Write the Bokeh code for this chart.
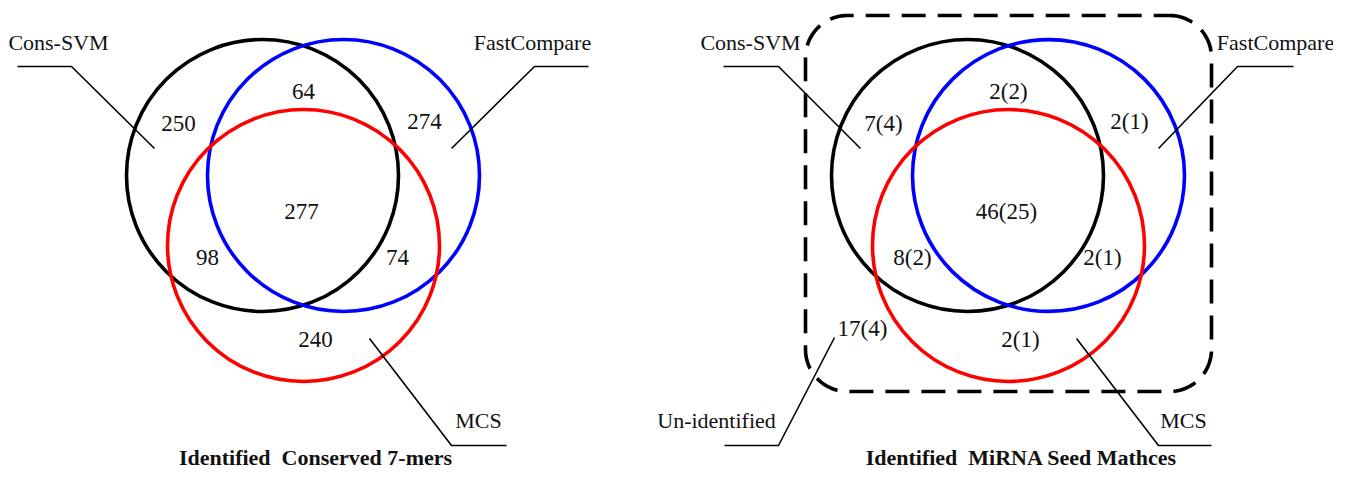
import numpy as np
from bokeh.plotting import figure
from bokeh.models import Range1d, ColumnDataSource
from bokeh.core.properties import value
from bokeh.embed import file_html
from bokeh.resources import INLINE

# ---------------- data ----------------
set_names = ["Cons-SVM", "FastCompare", "MCS"]
set_colors = ["black", "blue", "red"]

# region order: A only, A&B, B only, A&B&C, A&C, B&C, C only
regions = ["A", "AB", "B", "ABC", "AC", "BC", "C"]
kmer_counts = ["250", "64", "274", "277", "98", "74", "240"]
seed_counts = ["7(4)", "2(2)", "2(1)", "46(25)", "8(2)", "2(1)", "2(1)"]
unidentified_label = "Un-identified"
unidentified_count = "17(4)"
title_left = "Identified  Conserved 7-mers"
title_right = "Identified  MiRNA Seed Mathces"

# ---------------- layout (pixel space of the picture) ----------------
FONT = value("Liberation Serif")
W, H = 1333, 471

p = figure(width=W, height=H, output_backend="svg", toolbar_location=None,
           x_range=Range1d(0, W), y_range=Range1d(H, 0),
           min_border=0)
p.axis.visible = False
p.grid.visible = False
p.outline_line_color = None
p.background_fill_color = "white"
p.border_fill_color = "white"

# circle centres for each diagram, relative offsets
circ_dx = [0, 81, 41]
circ_dy = [0, 0, 70]
R = 136
origins = [(262, 175), (967, 175)]

# region label offsets relative to diagram origin (black circle centre)
reg_dx = [-84, 41, 162, 39, -55, 135, 53]
reg_dy = [-52, -84, -54, 36, 82, 82, 164]

for (ox, oy), counts in zip(origins, [kmer_counts, seed_counts]):
    cx = [ox + d for d in circ_dx]
    cy = [oy + d for d in circ_dy]
    p.ellipse(x=cx, y=cy, width=2 * R, height=2 * R, fill_color=None,
              line_color=set_colors, line_width=3.6)
    src = ColumnDataSource(dict(x=[ox + d for d in reg_dx],
                                y=[oy + d for d in reg_dy], t=counts))
    p.text(x="x", y="y", text="t", source=src, text_font=FONT,
           text_font_size="23px", text_align="center",
           text_baseline="middle", text_color="#111111")

# dashed rounded rectangle around right diagram
def rounded_rect(x0, y0, x1, y1, r, n=20):
    xs, ys = [], []
    corners = [(x1 - r, y0 + r, -np.pi / 2, 0), (x1 - r, y1 - r, 0, np.pi / 2),
               (x0 + r, y1 - r, np.pi / 2, np.pi), (x0 + r, y0 + r, np.pi, 1.5 * np.pi)]
    for ccx, ccy, a0, a1 in corners:
        a = np.linspace(a0, a1, n)
        xs.extend(ccx + r * np.cos(a))
        ys.extend(ccy + r * np.sin(a))
    xs.append(xs[0]); ys.append(ys[0])
    return xs, ys

bx, by = rounded_rect(805, 15, 1211, 391, 42)
p.line(bx, by, line_color="black", line_width=3.6, line_dash="24 12")

# leader lines
leaders_x = [[17, 71, 154], [588, 534, 451], [369, 451, 506],
             [723, 778, 860], [1293, 1237, 1158], [724, 778, 834], [1076, 1158, 1211]]
leaders_y = [[66, 66, 148], [66, 66, 148], [338, 445, 445],
             [66, 66, 148], [66, 66, 148], [445, 445, 337], [338, 445, 445]]
p.multi_line(xs=leaders_x, ys=leaders_y, line_color="black", line_width=1.6)

# set name labels
lab_x = [58, 532, 478, 750, 1275, 1183, 716]
lab_y = [42, 42, 420, 42, 42, 420, 420]
lab_t = [set_names[0], set_names[1], set_names[2],
         set_names[0], set_names[1], set_names[2], unidentified_label]
p.text(x=lab_x, y=lab_y, text=lab_t, text_font=FONT, text_font_size="22px",
       text_align="center", text_baseline="middle", text_color="#111111")

# unidentified count
p.text(x=[862], y=[328], text=[unidentified_count], text_font=FONT,
       text_font_size="23px", text_align="center", text_baseline="middle",
       text_color="#111111")

# titles (keep the double space visible)
titles = [t.replace("  ", "\u00a0 ") for t in [title_left, title_right]]
p.text(x=[315, 1021], y=[457, 457], text=titles, text_font=FONT,
       text_font_size="22px", text_font_style="bold", text_align="center",
       text_baseline="middle", text_color="#111111")

open("out.html", "w").write(file_html(p, INLINE))
